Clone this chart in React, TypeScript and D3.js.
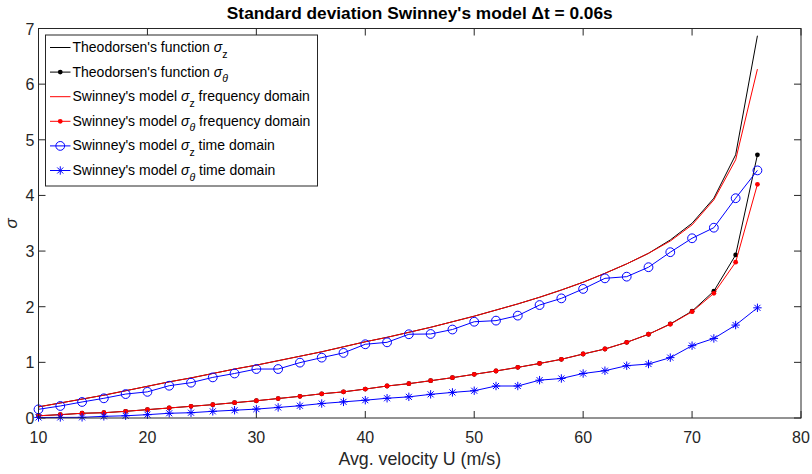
import React from "react";
import * as d3 from "d3";

const velocities = [10,12,14,16,18,20,22,24,26,28,30,32,34,36,38,40,42,44,46,48,50,52,54,56,58,60,62,64,66,68,70,72,74,76];

const theoSigmaZ = [0.20,0.27,0.34,0.41,0.49,0.57,0.65,0.72,0.80,0.88,0.95,1.03,1.11,1.19,1.28,1.37,1.45,1.54,1.63,1.73,1.83,1.94,2.05,2.17,2.30,2.44,2.60,2.77,2.96,3.20,3.50,3.95,4.73,6.87];
const theoSigmaTheta = [0.04,0.06,0.085,0.095,0.12,0.15,0.18,0.21,0.24,0.275,0.31,0.35,0.39,0.435,0.47,0.52,0.575,0.617,0.67,0.725,0.785,0.845,0.91,0.98,1.055,1.15,1.24,1.36,1.505,1.69,1.92,2.28,2.93,4.73];
const swinFreqZ = [0.20,0.27,0.34,0.41,0.49,0.57,0.65,0.72,0.80,0.88,0.95,1.03,1.11,1.19,1.28,1.37,1.45,1.54,1.63,1.73,1.83,1.94,2.05,2.17,2.30,2.44,2.60,2.77,2.96,3.18,3.47,3.92,4.64,6.27];
const swinFreqTheta = [0.04,0.06,0.085,0.095,0.12,0.15,0.18,0.21,0.24,0.275,0.31,0.35,0.39,0.435,0.47,0.52,0.575,0.617,0.67,0.725,0.785,0.845,0.91,0.98,1.055,1.15,1.24,1.36,1.505,1.685,1.91,2.24,2.80,4.20];
const swinTimeZ = [0.156,0.216,0.288,0.354,0.43,0.47,0.58,0.635,0.73,0.80,0.88,0.88,0.995,1.085,1.17,1.325,1.36,1.505,1.51,1.59,1.73,1.75,1.84,2.03,2.15,2.32,2.51,2.54,2.71,2.98,3.23,3.42,3.95,4.45];
const swinTimeTheta = [0.01,0.01,0.012,0.03,0.04,0.06,0.085,0.095,0.12,0.14,0.16,0.19,0.22,0.26,0.29,0.32,0.355,0.38,0.425,0.46,0.49,0.575,0.575,0.68,0.71,0.80,0.85,0.94,0.97,1.085,1.30,1.43,1.67,1.98];

const xTicks = [10,20,30,40,50,60,70,80];
const yTicks = [0,1,2,3,4,5,6,7];

type Marker = "none" | "dot" | "circle" | "star";
const seriesDefs: { values: number[]; color: string; marker: Marker; label: string; sub: string; rest: string }[] = [
  { values: theoSigmaZ, color: "#000000", marker: "none", label: "Theodorsen's function ", sub: "z", rest: "" },
  { values: theoSigmaTheta, color: "#000000", marker: "dot", label: "Theodorsen's function ", sub: "θ", rest: "" },
  { values: swinFreqZ, color: "#ff0000", marker: "none", label: "Swinney's model ", sub: "z", rest: " frequency domain" },
  { values: swinFreqTheta, color: "#ff0000", marker: "dot", label: "Swinney's model ", sub: "θ", rest: " frequency domain" },
  { values: swinTimeZ, color: "#0000ff", marker: "circle", label: "Swinney's model ", sub: "z", rest: " time domain" },
  { values: swinTimeTheta, color: "#0000ff", marker: "star", label: "Swinney's model ", sub: "θ", rest: " time domain" },
];

const FONT = "'Liberation Sans', Arial, Helvetica, sans-serif";

function MarkerShape({ type, x, y, color }: { type: Marker; x: number; y: number; color: string }) {
  if (type === "dot") return <circle cx={x} cy={y} r={2.4} fill={color} stroke="none" />;
  if (type === "circle") return <circle cx={x} cy={y} r={4.4} fill="none" stroke={color} strokeWidth={1} />;
  if (type === "star") {
    const s = 4.2;
    const d = s * 0.72;
    return (
      <g stroke={color} strokeWidth={1}>
        <line x1={x - s} y1={y} x2={x + s} y2={y} />
        <line x1={x} y1={y - s} x2={x} y2={y + s} />
        <line x1={x - d} y1={y - d} x2={x + d} y2={y + d} />
        <line x1={x - d} y1={y + d} x2={x + d} y2={y - d} />
      </g>
    );
  }
  return null;
}

export default function App() {
  const W = 812, H = 474;
  const left = 38.5, right = 801, top = 28.5, bottom = 418;
  const x = d3.scaleLinear().domain([10, 80]).range([left, right]);
  const y = d3.scaleLinear().domain([0, 7]).range([bottom, top]);
  const line = d3.line<number>().x((_, i) => x(velocities[i])).y((d) => y(d));
  const tickLen = 7;

  const legX = 45.5, legY = 35, legW = 272, legH = 151, rowH = 24.6;

  return (
    <svg width={W} height={H} style={{ position: "absolute", left: 0, top: 0, fontFamily: FONT }}>
      <rect x={0} y={0} width={W} height={H} fill="#fff" />
      <text x={(left + right) / 2} y={19} textAnchor="middle" fontSize={17.3} fontWeight="bold" fill="#000">
        Standard deviation Swinney's model Δt = 0.06s
      </text>
      {/* ticks */}
      <g stroke="#262626" strokeWidth={1}>
        {xTicks.map((t) => (
          <g key={"xt" + t}>
            <line x1={x(t)} y1={bottom} x2={x(t)} y2={bottom - tickLen} />
            <line x1={x(t)} y1={top} x2={x(t)} y2={top + tickLen} />
          </g>
        ))}
        {yTicks.map((t) => (
          <g key={"yt" + t}>
            <line x1={left} y1={y(t)} x2={left + tickLen} y2={y(t)} />
            <line x1={right} y1={y(t)} x2={right - tickLen} y2={y(t)} />
          </g>
        ))}
      </g>
      {xTicks.map((t) => (
        <text key={"xl" + t} x={x(t)} y={443} textAnchor="middle" fontSize={16} fill="#262626">{t}</text>
      ))}
      {yTicks.map((t) => (
        <text key={"yl" + t} x={left - 4} y={y(t) + 6} textAnchor="end" fontSize={16} fill="#262626">{t}</text>
      ))}
      <text x={(left + right) / 2} y={465} textAnchor="middle" fontSize={17.8} fill="#262626">Avg. velocity U (m/s)</text>
      <text transform={`translate(17,${(top + bottom) / 2}) rotate(-90)`} textAnchor="middle" fontSize={17} fontStyle="italic" fill="#262626">σ</text>

      {/* series */}
      {seriesDefs.map((s, si) => (
        <g key={"s" + si}>
          <path d={line(s.values) || ""} fill="none" stroke={s.color} strokeWidth={1} />
          {s.marker !== "none" && s.values.map((v, i) => (
            <MarkerShape key={i} type={s.marker} x={x(velocities[i])} y={y(v)} color={s.color} />
          ))}
        </g>
      ))}

      {/* axes box */}
      <rect x={left} y={top} width={right - left} height={bottom - top} fill="none" stroke="#262626" strokeWidth={1} />

      {/* legend */}
      <rect x={legX} y={legY} width={legW} height={legH} fill="#fff" stroke="#262626" strokeWidth={1} />
      {seriesDefs.map((s, i) => {
        const cy = legY + 12.5 + i * rowH;
        return (
          <g key={"lg" + i}>
            <line x1={50} y1={cy} x2={70.5} y2={cy} stroke={s.color} strokeWidth={1} />
            <MarkerShape type={s.marker} x={60.25} y={cy} color={s.color} />
            <text x={72.5} y={cy + 4.5} fontSize={14} fill="#000">
              {s.label}
              <tspan fontStyle="italic">σ</tspan>
              <tspan fontSize={10.5} dy={5.5} fontStyle={s.sub === "θ" ? "italic" : "normal"}>{s.sub}</tspan>
              <tspan dy={-5.5}>{s.rest}</tspan>
            </text>
          </g>
        );
      })}
    </svg>
  );
}
